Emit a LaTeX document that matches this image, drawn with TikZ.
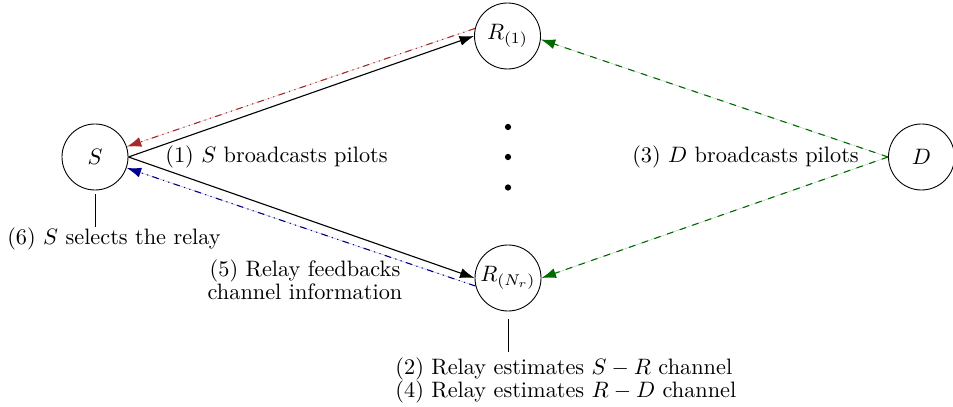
\documentclass[tikz,border=0pt]{standalone}
\usetikzlibrary{arrows.meta}
\definecolor{myred}{RGB}{170,40,40}
\definecolor{myblue}{RGB}{0,0,140}
\definecolor{mygreen}{RGB}{0,105,0}
\begin{document}
\begin{tikzpicture}[x=0.4484pt,y=-0.4484pt,
  station/.style={circle,draw,minimum size=29.6pt,inner sep=0pt},
  dotnode/.style={circle,fill,minimum size=2.8pt,inner sep=0pt},
  lab/.style={inner sep=0pt,align=center,font=\fontsize{10pt}{10.4pt}\selectfont},
  arr/.style={-{Latex[length=6.5pt,width=4.5pt]},line width=0.5pt},
  fb/.style={arr,dash dot dot},
  pil/.style={arr,dashed,draw=mygreen,fill=mygreen}]
\useasboundingbox (0,0) rectangle (953,407);
\node[station] (S) at (95,157) {$S$};
\node[station] (R1) at (507.5,36) {$R_{(1)}$};
\node[station] (RN) at (508,278) {$R_{(N_r)}$};
\node[station] (D) at (921.5,157) {$D$};
\node[dotnode] (d1) at (508,127) {};
\node[dotnode] (d2) at (508,157) {};
\node[dotnode] (d3) at (508,187.5) {};
\node[lab] (l1) at (276.5,157) {(1) $S$ broadcasts pilots};
\node[lab] (l3) at (745.5,157) {(3) $D$ broadcasts pilots};
\node[lab,anchor=north] (l6) at (114,227.5) {(6) $S$ selects the relay};
\node[lab,anchor=north] (l5) at (305,259) {(5) Relay feedbacks\\channel information};
\node[lab,align=left,anchor=north west] (l24) at (395,357) {(2) Relay estimates $S-R$ channel\\(4) Relay estimates $R-D$ channel};
\draw[arr] (S.east) -- (R1.west);
\draw[arr] (S.east) -- (RN.west);
\draw[fb,draw=myred,fill=myred] (R1.167) -- (S.18);
\draw[fb,draw=myblue,fill=myblue] (RN.194) -- (S.-19);
\draw[pil] (D.west) -- (R1.-6);
\draw[pil] (D.west) -- (RN.east);
\draw[shorten <=1.8pt] (S.south) -- (S.south |- l6.north);
\draw[shorten <=3.4pt,shorten >=2.4pt] (RN.south) -- (RN.south |- l24.north);
\end{tikzpicture}
\end{document}
